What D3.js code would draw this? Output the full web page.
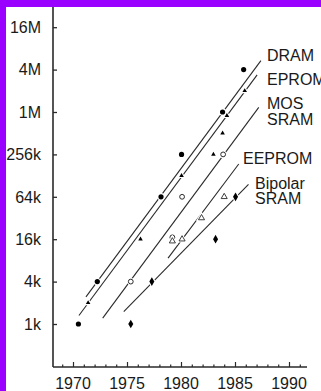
<!DOCTYPE html>
<html>
<head>
<meta charset="utf-8">
<script src="https://cdn.jsdelivr.net/npm/d3@7"></script>
<style>
  html, body { margin: 0; padding: 0; background: #9900ff; }
  svg { display: block; }
  text { font-family: "Liberation Sans", Arial, Helvetica, sans-serif; fill: #1a1a1a; }
</style>
</head>
<body>
<svg id="chart" width="321" height="391"></svg>
<script>
// Memory chip density by year of introduction (capacity in kbit, log scale)
const seriesNames = ["DRAM", "EPROM", "MOS SRAM", "EEPROM", "Bipolar SRAM"];

const dramYears = [1970.5, 1972.25, 1978.15, 1980.05, 1983.85, 1985.8];
const dramKbit  = [1, 4, 64, 256, 1024, 4096];

const epromYears = [1971.4, 1976.25, 1980.05, 1983.0, 1983.85, 1984.25, 1985.9];
const epromKbit  = [2, 16, 128, 256, 512, 910, 2048];

const mosSramYears = [1975.35, 1979.2, 1980.1, 1983.9];
const mosSramKbit  = [4, 17, 64, 256];

const eepromYears = [1979.2, 1980.1, 1981.9, 1984.0];
const eepromKbit  = [15, 16, 32, 64];

const bipolarYears = [1975.35, 1977.3, 1983.2, 1985.05];
const bipolarKbit  = [1, 4, 16, 64];

// Trend lines: [year, kbit] at each end
const dramTrend    = [[1971.2, 2.43], [1987.4, 5480]];
const epromTrend   = [[1970.55, 1.32], [1987.05, 3440]];
const mosSramTrend = [[1972.75, 1.21], [1987.2, 1190]];
const eepromTrend  = [[1978.8, 8.6], [1985.35, 187]];
const bipolarTrend = [[1974.7, 1.5], [1986.25, 96]];

const yTickValues = [1, 4, 16, 64, 256, 1024, 4096, 16384];
const yTickLabels = ["1k", "4k", "16k", "64k", "256k", "1M", "4M", "16M"];
const xMajorYears = [1970, 1975, 1980, 1985, 1990];
const xMinorYears = d3.range(1969, 1992);

const svg = d3.select("#chart");

// white plotting sheet over the violet backdrop
svg.append("rect").attr("x", 6).attr("y", 7).attr("width", 315).attr("height", 384).attr("fill", "#ffffff");

const x = d3.scaleLinear().domain([1970, 1990]).range([73, 289]);
const y = d3.scaleLog().base(2).domain([0.25, 32768]).range([366.4, 6]);

const axisLeft = 53, axisBottom = 367, axisRight = 307, axisTop = 7;
const ink = "#2a2a2a";

// y axis
const gy = svg.append("g").attr("transform", `translate(${axisLeft},0)`)
  .call(d3.axisRight(y).tickValues(yTickValues).tickSize(4).tickFormat(() => ""));
gy.select(".domain").remove();
gy.selectAll(".tick line").attr("stroke", ink).attr("stroke-width", 1.3);
svg.append("line").attr("x1", axisLeft).attr("x2", axisLeft).attr("y1", axisTop).attr("y2", axisBottom)
  .attr("stroke", ink).attr("stroke-width", 1.6);
svg.append("g").selectAll("text").data(yTickValues).join("text")
  .attr("x", 41).attr("y", d => y(d)).attr("dy", "0.36em")
  .attr("text-anchor", "end").attr("font-size", 16)
  .text((d, i) => yTickLabels[i]);

// x axis
const gxMinor = svg.append("g").attr("transform", `translate(0,${axisBottom})`)
  .call(d3.axisTop(x).tickValues(xMinorYears.filter(v => v % 5 !== 0)).tickSize(2.5).tickFormat(() => ""));
gxMinor.select(".domain").remove();
gxMinor.selectAll(".tick line").attr("stroke", ink).attr("stroke-width", 1.2);
const gxMajor = svg.append("g").attr("transform", `translate(0,${axisBottom})`)
  .call(d3.axisTop(x).tickValues(xMajorYears).tickSize(5).tickFormat(() => ""));
gxMajor.select(".domain").remove();
gxMajor.selectAll(".tick line").attr("stroke", ink).attr("stroke-width", 1.2);
svg.append("line").attr("x1", axisLeft).attr("x2", axisRight).attr("y1", axisBottom).attr("y2", axisBottom)
  .attr("stroke", ink).attr("stroke-width", 1.6);
svg.append("g").selectAll("text").data(xMajorYears).join("text")
  .attr("x", d => x(d)).attr("y", 388.5)
  .attr("text-anchor", "middle").attr("font-size", 16)
  .text(d => d);

// trend lines
const line = d3.line().x(d => x(d[0])).y(d => y(d[1]));
const trends = [dramTrend, epromTrend, mosSramTrend, eepromTrend, bipolarTrend];
svg.append("g").selectAll("path").data(trends).join("path")
  .attr("d", line).attr("fill", "none").attr("stroke", ink).attr("stroke-width", 1.1);

// markers with a white halo so the trend lines break around them
function pts(years, vals) { return years.map((t, i) => [t, vals[i]]); }
const markers = svg.append("g");
const halo = sel => sel.attr("stroke", "#fff").attr("stroke-width", 2.2).attr("paint-order", "stroke");

halo(markers.append("g").selectAll("circle").data(pts(dramYears, dramKbit)).join("circle")
  .attr("cx", d => x(d[0])).attr("cy", d => y(d[1])).attr("r", 2.6).attr("fill", "#000"));

const triSmall = d3.symbol().type(d3.symbolTriangle).size(9);
halo(markers.append("g").selectAll("path").data(pts(epromYears, epromKbit)).join("path")
  .attr("transform", d => `translate(${x(d[0])},${y(d[1])})`).attr("d", triSmall).attr("fill", "#000"));

const ring = markers.append("g").selectAll("g").data(pts(mosSramYears, mosSramKbit)).join("g")
  .attr("transform", d => `translate(${x(d[0])},${y(d[1])})`);
ring.append("circle").attr("r", 3.6).attr("fill", "#fff");
ring.append("circle").attr("r", 2.4).attr("fill", "#fff").attr("stroke", ink).attr("stroke-width", 1);

const triOpen = d3.symbol().type(d3.symbolTriangle).size(16);
const tri = markers.append("g").selectAll("g").data(pts(eepromYears, eepromKbit)).join("g")
  .attr("transform", d => `translate(${x(d[0])},${y(d[1])})`);
tri.append("path").attr("d", triOpen).attr("fill", "#fff").attr("stroke", "#fff").attr("stroke-width", 3);
tri.append("path").attr("d", triOpen).attr("fill", "#fff").attr("stroke", ink).attr("stroke-width", 0.9);

const diamond = d3.symbol().type(d3.symbolDiamond).size(22);
halo(markers.append("g").selectAll("path").data(pts(bipolarYears, bipolarKbit)).join("path")
  .attr("transform", d => `translate(${x(d[0])},${y(d[1])})`).attr("d", diamond).attr("fill", "#000"));

// series labels at the line ends
const labels = [
  { lines: ["DRAM"], x: 267, y: 61 },
  { lines: ["EPROM"], x: 267, y: 85 },
  { lines: ["MOS", "SRAM"], x: 267, y: 109 },
  { lines: ["EEPROM"], x: 243, y: 163.5 },
  { lines: ["Bipolar", "SRAM"], x: 255, y: 188.5 }
];
const lg = svg.append("g");
labels.forEach((l, i) => {
  const t = lg.append("text").attr("x", l.x).attr("y", l.y).attr("font-size", 16).attr("data-series", seriesNames[i]);
  l.lines.forEach((s, j) => t.append("tspan").attr("x", l.x).attr("dy", j === 0 ? 0 : 15.8).text(s));
});
</script>
</body>
</html>
